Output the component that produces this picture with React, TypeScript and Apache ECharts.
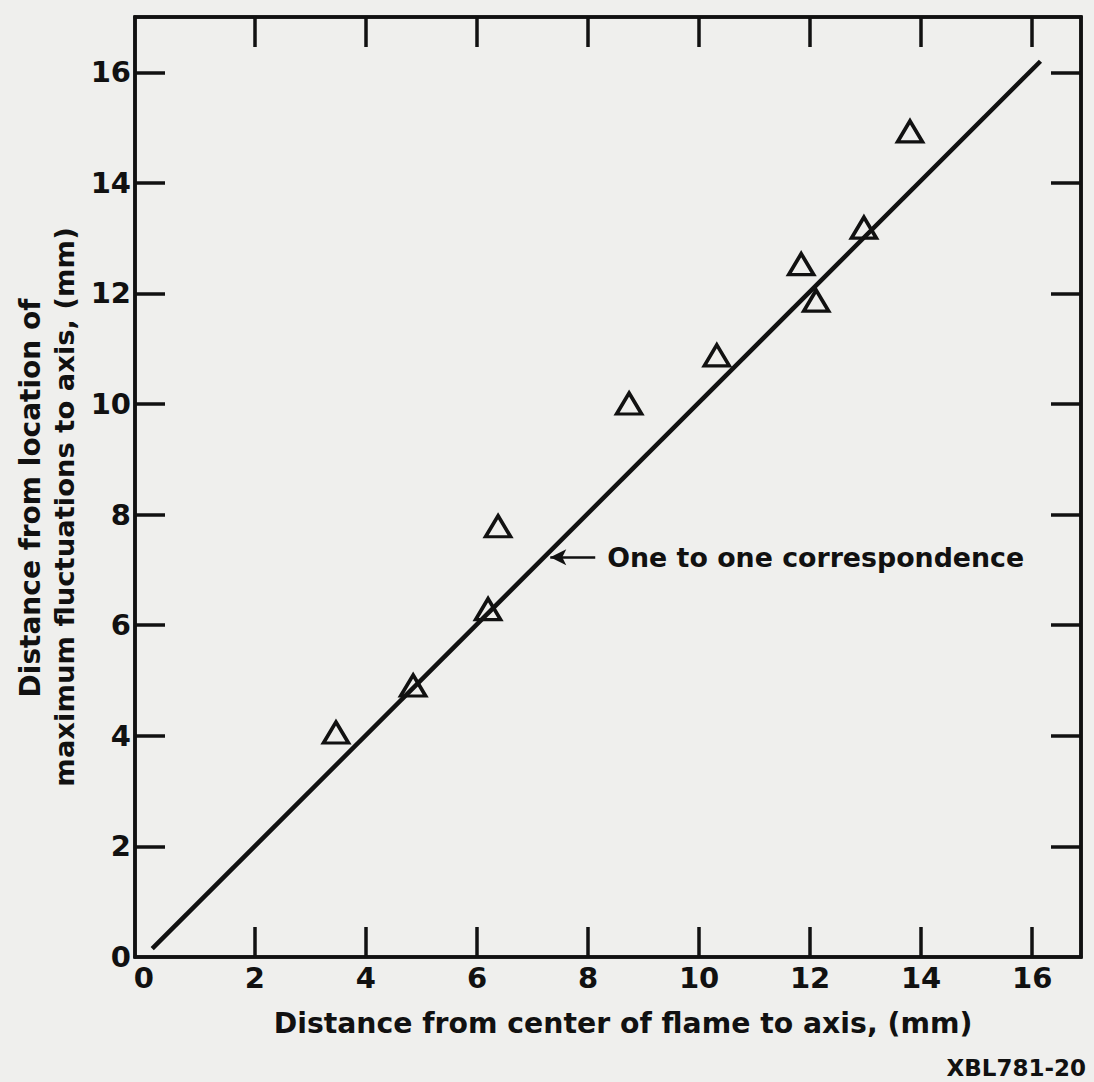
import React, { useEffect, useRef } from "react";
import * as echarts from "echarts";

// ---- Data ----
const pointsX = [3.46, 4.85, 6.2, 6.38, 8.74, 10.32, 11.84, 12.11, 12.97, 13.8];
const pointsY = [4.06, 4.91, 6.29, 7.79, 10.01, 10.88, 12.53, 11.87, 13.19, 14.93];
const lineX = [0.15, 16.15];
const lineY = [0.15, 16.2];
const tickValues = [2, 4, 6, 8, 10, 12, 14, 16];
const labelValues = [0, 2, 4, 6, 8, 10, 12, 14, 16];
const arrowFrom = [8.13, 7.23];
const arrowTo = [7.32, 7.23];

const xTitle = "Distance from center of flame to axis, (mm)";
const yTitle1 = "Distance from location of";
const yTitle2 = "maximum fluctuations to axis, (mm)";
const annotation = "One to one correspondence";
const refCode = "XBL781-20";

const FONT = "DejaVu Sans";
const INK = "#111111";

export default function App() {
  const ref = useRef<HTMLDivElement>(null);

  useEffect(() => {
    if (!ref.current) return;
    const chart = echarts.init(ref.current, undefined, { renderer: "svg" });

    const axisCommon = (show: boolean, margin = 8) => ({
      type: "value" as const,
      splitLine: { show: false },
      axisLine: { show: true, onZero: false, lineStyle: { color: INK, width: 3.5 } },
      axisTick: {
        show: true,
        inside: true,
        length: 30,
        customValues: tickValues,
        lineStyle: { color: INK, width: 3.5 },
      },
      axisLabel: show
        ? {
            show: true,
            customValues: labelValues,
            color: INK,
            fontSize: 29,
            fontWeight: "bold",
            fontFamily: FONT,
            margin,
          }
        : { show: false },
    });

    const option: any = {
      animation: false,
      backgroundColor: "#efefed",
      grid: {
        left: 135,
        right: 13,
        top: 17,
        bottom: 125,
        show: true,
        borderColor: INK,
        borderWidth: 3.5,
        backgroundColor: "transparent",
      },
      xAxis: [
        { ...axisCommon(true, 6), position: "bottom", min: -0.16, max: 16.88 },
        { ...axisCommon(false), position: "top", min: -0.16, max: 16.88 },
      ],
      yAxis: [
        { ...axisCommon(true, 4), position: "left", min: 0, max: 17 },
        { ...axisCommon(false), position: "right", min: 0, max: 17 },
      ],
      series: [
        {
          type: "line",
          data: lineX.map((x, i) => [x, lineY[i]]),
          showSymbol: false,
          symbol: "none",
          lineStyle: { color: INK, width: 4.5 },
          silent: true,
          markLine: {
            silent: true,
            symbol: ["none", "arrow"],
            symbolSize: [12, 16],
            lineStyle: { color: INK, width: 2.5, type: "solid" },
            label: {
              show: true,
              position: "start",
              distance: 12,
              formatter: annotation,
              color: INK,
              fontSize: 26.8,
              fontWeight: "bold",
              fontFamily: FONT,
            },
            data: [[{ coord: arrowFrom }, { coord: arrowTo }]],
          },
        },
        {
          type: "scatter",
          data: pointsX.map((x, i) => [x, pointsY[i]]),
          symbol: "triangle",
          symbolSize: [25, 21],
          itemStyle: {
            color: "rgba(0,0,0,0)",
            borderColor: INK,
            borderWidth: 3.5,
            opacity: 1,
          },
          silent: true,
        },
      ],
      graphic: [
        {
          type: "text",
          x: 623,
          y: 1023,
          style: {
            text: xTitle,
            fill: INK,
            fontSize: 28.3,
            fontWeight: "bold",
            fontFamily: FONT,
            align: "center",
            verticalAlign: "middle",
          },
        },
        {
          type: "text",
          x: 30,
          y: 498,
          rotation: Math.PI / 2,
          style: {
            text: yTitle1,
            fill: INK,
            fontSize: 28,
            fontWeight: "bold",
            fontFamily: FONT,
            align: "center",
            verticalAlign: "middle",
          },
        },
        {
          type: "text",
          x: 64,
          y: 507,
          rotation: Math.PI / 2,
          style: {
            text: yTitle2,
            fill: INK,
            fontSize: 27.4,
            fontWeight: "bold",
            fontFamily: FONT,
            align: "center",
            verticalAlign: "middle",
          },
        },
        {
          type: "text",
          x: 1086,
          y: 1068,
          style: {
            text: refCode,
            fill: INK,
            fontSize: 23,
            fontWeight: "bold",
            fontFamily: FONT,
            align: "right",
            verticalAlign: "middle",
          },
        },
      ],
    };

    chart.setOption(option);
    return () => chart.dispose();
  }, []);

  return (
    <div
      ref={ref}
      style={{ position: "absolute", left: 0, top: 0, width: 1094, height: 1082 }}
    />
  );
}
